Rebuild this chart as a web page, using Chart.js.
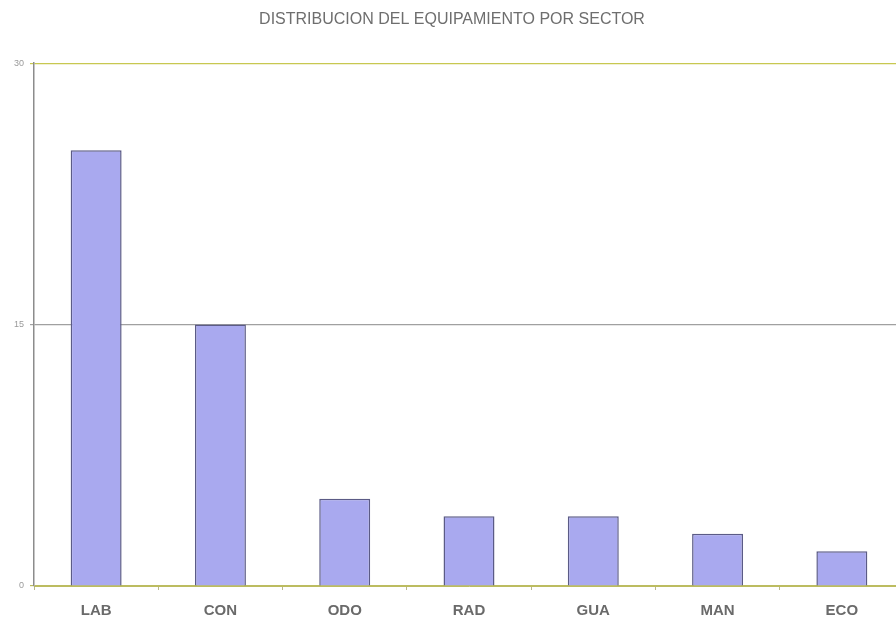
<!DOCTYPE html>
<html>
<head>
<meta charset="utf-8">
<script src="https://cdn.jsdelivr.net/npm/chart.js@4"></script>
<style>
  html, body { margin: 0; padding: 0; background: #ffffff; overflow: hidden; }
  #wrap { width: 896px; height: 619px; overflow: hidden; }
</style>
</head>
<body>
<div id="wrap"><canvas id="c" width="906" height="632"></canvas></div>
<script>
// Equipment count per hospital sector
const sectors = ['LAB', 'CON', 'ODO', 'RAD', 'GUA', 'MAN', 'ECO'];
const equipmentCount = [25, 15, 5, 4, 4, 3, 2];
const yTicks = [0, 15, 30];

// top gridline and baseline are olive, the middle one gray
const gridColors = ['#bcbc60', '#a0a0a0', '#c8c850'];

const chart = new Chart(document.getElementById('c'), {
  type: 'bar',
  data: {
    labels: sectors,
    datasets: [{
      data: equipmentCount,
      backgroundColor: '#a9a9ef',
      borderColor: '#5b5b86',
      borderWidth: 1.5,
      barPercentage: 0.41,
      categoryPercentage: 1.0
    }]
  },
  options: {
    responsive: false,
    animation: false,
    devicePixelRatio: 1,
    layout: { padding: { top: 0, right: 2, bottom: 0, left: 0 } },
    plugins: {
      legend: { display: false },
      tooltip: { enabled: false },
      title: {
        display: true,
        text: 'DISTRIBUCION DEL EQUIPAMIENTO POR SECTOR',
        color: '#6e6e6e',
        font: { family: 'Liberation Sans', size: 16, weight: 'normal' },
        padding: { top: 10, bottom: 34 }
      }
    },
    scales: {
      x: {
        offset: true,
        grid: {
          offset: true,
          drawOnChartArea: false,
          drawTicks: true,
          tickLength: 4,
          color: '#b9b98a'
        },
        border: { display: true, color: '#bcbc60', width: 1 },
        ticks: {
          color: '#6a6a6a',
          font: { family: 'Liberation Sans', size: 15, weight: 'bold' },
          padding: 12
        }
      },
      y: {
        min: 0,
        max: 30,
        afterBuildTicks: (axis) => { axis.ticks = yTicks.map(v => ({ value: v })); },
        afterFit: (axis) => { axis.width = 34; },
        grid: {
          drawTicks: true,
          tickLength: 4,
          lineWidth: 1.2,
          color: (ctx) => gridColors[ctx.index] || '#a0a0a0'
        },
        border: { display: true, color: '#8c8c8c', width: 1.5 },
        ticks: {
          color: '#9a9a9a',
          font: { family: 'Liberation Sans', size: 9 },
          padding: 6
        }
      }
    }
  }
});
</script>
</body>
</html>
